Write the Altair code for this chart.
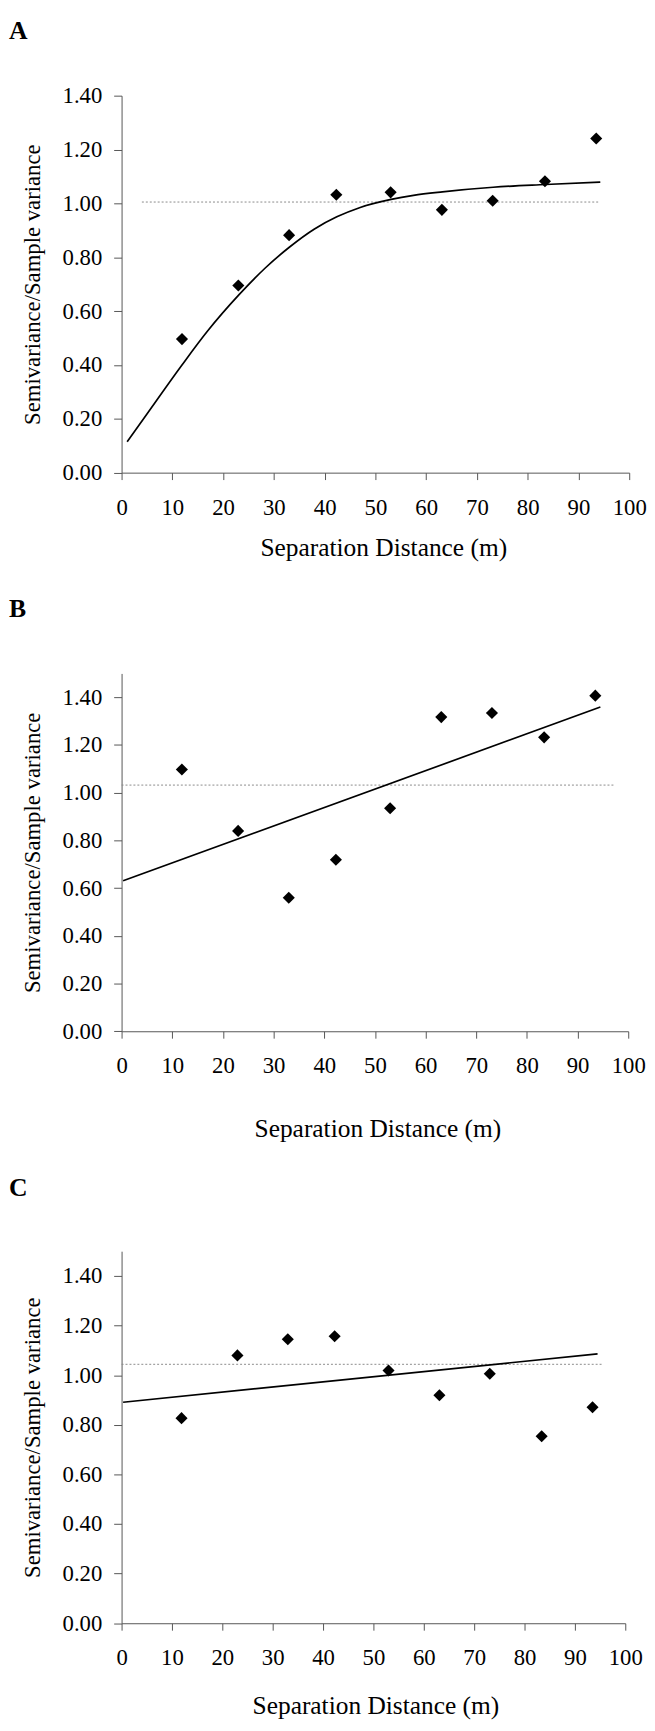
import altair as alt
import pandas as pd

# ---- data ----
dist = [11.9, 23.0, 33.0, 42.3, 53.0, 63.1, 73.1, 83.4, 93.5]
a_vals = [0.496, 0.695, 0.882, 1.032, 1.041, 0.976, 1.010, 1.082, 1.241]
b_vals = [1.097, 0.840, 0.560, 0.719, 0.935, 1.317, 1.334, 1.232, 1.407]
c_vals = [0.827, 1.080, 1.145, 1.157, 1.019, 0.919, 1.006, 0.754, 0.871]

a_fit_x = [1.1, 5.0, 11.9, 16.9, 23.1, 28.3, 33.1, 38.0, 42.4, 47.0, 53.1, 57.5, 63.2, 73.2, 83.5, 94.3]
a_fit_y = [0.115, 0.218, 0.400, 0.525, 0.660, 0.760, 0.838, 0.905, 0.950, 0.985, 1.015, 1.030, 1.043, 1.060, 1.070, 1.079]
b_fit_x = [0.3, 94.5]
b_fit_y = [0.631, 1.359]
c_fit_x = [0.3, 94.5]
c_fit_y = [0.891, 1.086]

ref_levels = [1.005, 1.032, 1.044]
ref_start = [4.0, 0.0, 0.0]
ref_end = [94.0, 97.3, 95.6]

letters = ["A", "B", "C"]
y_max = [1.4, 1.5, 1.5]
y_ticks = [0.0, 0.2, 0.4, 0.6, 0.8, 1.0, 1.2, 1.4]
x_ticks = [0, 10, 20, 30, 40, 50, 60, 70, 80, 90, 100]

FONT = "Liberation Serif"


def panel(i, vals, fit_x, fit_y, interp, width, height, letter_y, title_x, title_y, spacer_y):
    pts = pd.DataFrame({"d": dist, "v": vals})
    fit = pd.DataFrame({"d": fit_x, "v": fit_y})
    ref = pd.DataFrame({"d": [ref_start[i]], "d2": [ref_end[i]], "v": [ref_levels[i]]})

    xs = alt.Scale(domain=[0, 100], nice=False, zero=False)
    ys = alt.Scale(domain=[0, y_max[i]], nice=False, zero=True)
    x_axis = alt.Axis(
        values=x_ticks, format="d", grid=False, tickSize=7, labelPadding=17,
        labelFont=FONT, labelFontSize=23, labelColor="black", labelFlush=False,
        labelOverlap=False, domainColor="#555", tickColor="#555",
        title="Separation Distance (m)", titleFont=FONT, titleFontSize=25.7,
        titleFontWeight="normal", titleColor="black", titleX=title_x, titleY=title_y,
        titleBaseline="alphabetic",
    )
    y_axis = alt.Axis(
        values=y_ticks, format=".2f", grid=False, tickSize=8, labelPadding=12,
        labelFont=FONT, labelFontSize=23, labelColor="black", labelOverlap=False,
        labelFlush=False, domainColor="#555", tickColor="#555",
        title="Semivariance/Sample variance", titleFont=FONT, titleFontSize=23,
        titleFontWeight="normal", titleColor="black", titleX=-90, titleBaseline="middle",
    )
    x_enc = alt.X("d:Q", scale=xs, axis=x_axis)
    y_enc = alt.Y("v:Q", scale=ys, axis=y_axis)

    refline = alt.Chart(ref).mark_rule(color="#8a8a8a", strokeWidth=1, strokeDash=[2, 2]).encode(
        x=x_enc, x2="d2:Q", y=y_enc
    )
    fitline = alt.Chart(fit).mark_line(color="black", strokeWidth=1.7, interpolate=interp).encode(
        x=x_enc, y=y_enc
    )
    points = alt.Chart(pts).mark_point(shape="diamond", filled=True, color="black", size=150, opacity=1).encode(
        x=x_enc, y=y_enc
    )
    one = pd.DataFrame({"k": [0]})
    label = alt.Chart(one).mark_text(
        font=FONT, fontSize=26, fontWeight="bold", color="black", align="left", baseline="top"
    ).encode(x=alt.value(-114), y=alt.value(letter_y), text=alt.value(letters[i]))
    layers = [refline, fitline, points, label]
    if spacer_y is not None:
        spacer = alt.Chart(one).mark_rule(strokeOpacity=0, strokeWidth=1).encode(
            x=alt.value(0), x2=alt.value(1), y=alt.value(spacer_y)
        )
        layers.append(spacer)
    return alt.layer(*layers).properties(width=width, height=height)


pA = panel(0, a_vals, a_fit_x, a_fit_y, "monotone", 514, 381.7, -78, 265, 83.7, 506.8)
pB = panel(1, b_vals, b_fit_x, b_fit_y, "linear", 513, 362.3, -77.7, 259, 106.2, 507.5)
pC = panel(2, c_vals, c_fit_x, c_fit_y, "linear", 510, 376.7, -76.6, 257, 91, None)

chart = alt.vconcat(pA, pB, pC, spacing=0).properties(
    padding={"left": 1, "top": 0, "right": 0, "bottom": 0},
    background="white",
).configure_view(stroke=None)

chart.save("out.html", embed_options={"renderer": "svg", "actions": False})
